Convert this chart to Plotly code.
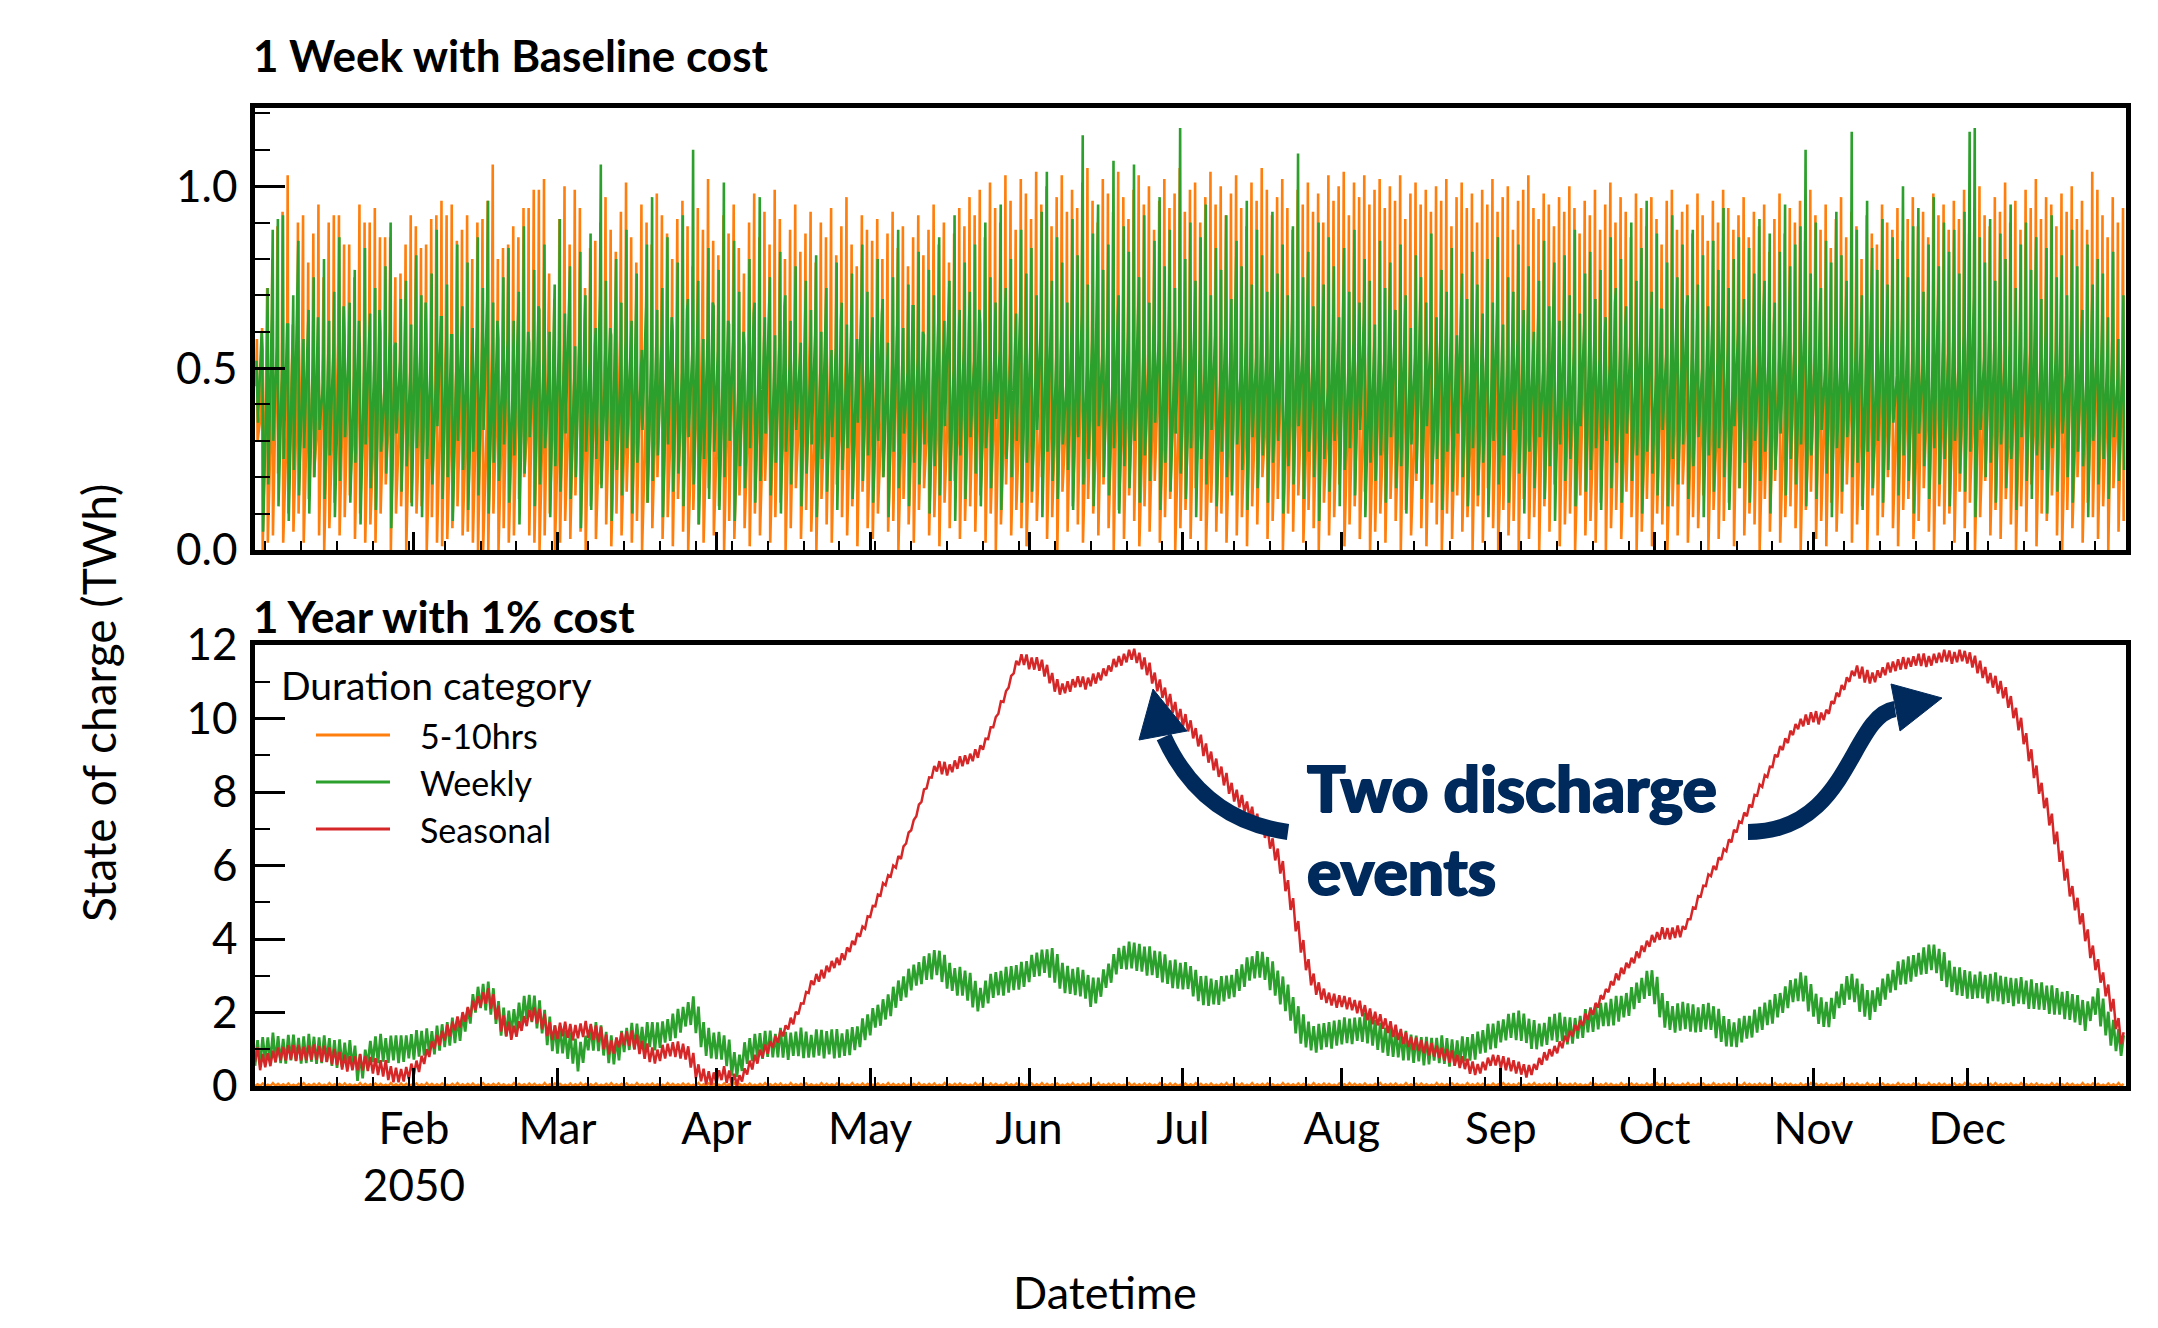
import numpy as np
import pandas as pd
import plotly.graph_objects as go

# ---------------------------------------------------------------- data
# one value per day of 2050 (day 0 = 1 Jan), TWh x 100
SERIES = ["5-10hrs", "Weekly", "Seasonal"]
MONTH_TICKS = ["2050-02-01", "2050-03-01", "2050-04-01", "2050-05-01", "2050-06-01",
               "2050-07-01", "2050-08-01", "2050-09-01", "2050-10-01", "2050-11-01",
               "2050-12-01"]
MONTH_LABELS = ["Feb<br>2050", "Mar", "Apr", "May", "Jun", "Jul", "Aug", "Sep",
                "Oct", "Nov", "Dec"]

# top panel (1 Week with Baseline cost): daily resting level, peak and trough
TOP_ORANGE_REST = [
    45, 38, 52, 41, 56, 47, 35, 50, 43, 58,
    40, 49, 36, 54, 44, 39, 57, 46, 51, 37,
    53, 42, 48, 35, 55, 45, 40, 59, 38, 50,
    44, 56, 41, 47, 36, 52, 43, 58, 39, 49,
    46, 37, 54, 42, 50, 35, 57, 44, 40, 53,
    39, 51, 45, 36, 55, 48, 41, 59, 43, 38,
    52, 40, 47, 56, 37, 49, 44, 35, 54, 46,
    42, 58, 38, 50, 45, 53, 36, 48, 41, 57,
    47, 39, 55, 43, 51, 37, 46, 60, 40, 52,
    36, 48, 44, 57, 41, 50, 38, 54, 45, 39,
    50, 43, 56, 38, 47, 53, 40, 45, 58, 36,
    49, 41, 55, 46, 37, 52, 44, 39, 57, 48,
    42, 54, 36, 50, 45, 59, 40, 47, 38, 53,
    46, 37, 51, 43, 56, 41, 48, 35, 55, 44,
    52, 47, 39, 58, 42, 50, 36, 54, 45, 40,
    57, 43, 49, 38, 53, 46, 41, 59, 37, 51,
    44, 56, 40, 48, 35, 52, 47, 42, 55, 39,
    50, 45, 58, 37, 54, 43, 49, 41, 56, 46,
    38, 53, 44, 51, 40, 57, 36, 48, 45, 52,
    41, 55, 47, 39, 59, 42, 50, 37, 54, 46,
    53, 40, 48, 56, 43, 38, 51, 45, 58, 36,
    49, 44, 55, 41, 47, 52, 39, 57, 42, 50,
    37, 54, 46, 40, 53, 48, 35, 56, 44, 51,
    45, 58, 38, 50, 42, 55, 47, 36, 52, 41,
    56, 43, 49, 37, 54, 40, 46, 59, 39, 48,
    42, 51, 45, 57, 38, 53, 44, 50, 36, 55,
    47, 40, 52, 46, 58, 41, 49, 35, 54, 43,
    50, 37, 56, 44, 48, 53, 39, 45, 57, 42,
    38, 54, 41, 51, 46, 36, 55, 47, 43, 59,
    52, 45, 39, 57, 40, 50, 44, 53, 37, 48,
    55, 42, 47, 36, 56, 49, 41, 54, 45, 38,
    51, 46, 58, 40, 44, 52, 37, 57, 43, 50,
    39, 53, 45, 48, 35, 55, 42, 47, 56, 41,
    54, 38, 50, 44, 59, 43, 46, 40, 52, 47,
    45, 57, 36, 51, 42, 49, 55, 39, 48, 53,
    40, 46, 54, 43, 58, 37, 50, 45, 41, 56,
    48, 42, 53, 39, 50,
]
TOP_ORANGE_PEAK = [
    58, 61, 72, 80, 89, 93, 103, 62, 90, 92,
    79, 87, 95, 75, 90, 92, 92, 84, 84, 75,
    95, 90, 90, 94, 86, 86, 86, 75, 76, 84,
    92, 89, 83, 84, 91, 92, 96, 92, 95, 85,
    88, 92, 80, 90, 91, 96, 106, 80, 83, 84,
    89, 86, 94, 94, 99, 99, 102, 76, 69, 91,
    100, 84, 99, 94, 72, 83, 85, 90, 97, 88,
    82, 93, 101, 86, 79, 95, 90, 84, 98, 92,
    87, 80, 91, 96, 89, 78, 94, 88, 102, 85,
    81, 92, 87, 95, 83, 76, 90, 98, 86, 93,
    84, 99, 91, 80, 88, 95, 82, 87, 93, 79,
    90, 86, 94, 81, 89, 97, 84, 78, 92, 88,
    85, 91, 80, 87, 93, 83, 89, 78, 86, 92,
    81, 88, 95, 84, 90, 79, 87, 94, 89, 97,
    92, 99, 86, 101, 94, 90, 103, 96, 88, 102,
    98, 91, 104, 95, 100, 89, 97, 103, 93, 99,
    94, 101, 105, 96, 90, 102, 98, 93, 104, 97,
    91, 99, 103, 95, 100, 88, 96, 102, 94, 98,
    105, 93, 99, 101, 90, 97, 104, 95, 100, 92,
    98, 103, 94, 89, 101, 96, 105, 99, 92, 97,
    102, 94, 88, 99, 95, 101, 93, 98, 90, 103,
    96, 100, 104, 92, 101, 97, 103, 95, 99, 102,
    94, 100, 96, 103, 91, 98, 101, 95, 99, 93,
    100, 96, 102, 89, 97, 101, 94, 98, 90, 99,
    95, 102, 93, 97, 100, 88, 96, 99, 103, 94,
    91, 98, 95, 89, 97, 93, 100, 94, 87, 96,
    92, 99, 88, 95, 101, 90, 97, 93, 86, 98,
    94, 89, 97, 91, 84, 96, 99, 88, 93, 95,
    87, 98, 92, 85, 96, 90, 99, 94, 88, 92,
    97, 86, 93, 89, 95, 82, 91, 98, 87, 94,
    90, 96, 85, 99, 92, 88, 95, 83, 91, 97,
    86, 93, 89, 80, 92, 87, 84, 95, 90, 88,
    94, 85, 91, 97, 89, 93, 86, 98, 92, 95,
    88, 96, 91, 99, 87, 94, 100, 92, 89, 97,
    93, 101, 90, 96, 88, 99, 94, 102, 91, 97,
    95, 89, 98, 93, 100, 91, 96, 88, 104, 99,
    92, 86, 97, 90, 94,
]
TOP_ORANGE_TROUGH = [
    30, 0, 2, 4, 21, 2, 10, 5, 10, 2,
    14, 20, 4, 0, 6, 13, 4, 9, 15, 3,
    10, 2, 7, 2, 10, 18, 0, 10, 12, 0,
    13, 10, 12, 0, 9, 2, 1, 3, 6, 12,
    4, 5, 2, 0, 0, 0, 10, 0, 6, 2,
    4, 14, 20, 4, 2, 0, 4, 10, 0, 2,
    8, 3, 15, 5, 0, 12, 3, 18, 7, 1,
    10, 4, 16, 2, 8, 0, 13, 6, 20, 3,
    9, 1, 14, 5, 0, 11, 7, 2, 17, 4,
    12, 0, 8, 3, 15, 6, 1, 10, 4, 19,
    2, 9, 13, 0, 6, 17, 3, 11, 5, 0,
    14, 7, 2, 18, 9, 4, 12, 1, 16, 6,
    3, 10, 20, 5, 8, 0, 14, 7, 2, 11,
    17, 4, 9, 1, 13, 6, 19, 3, 8, 12,
    5, 15, 2, 10, 0, 7, 18, 4, 11, 6,
    1, 13, 8, 20, 3, 9, 0, 16, 5, 12,
    7, 2, 14, 10, 4, 18, 6, 0, 11, 3,
    15, 8, 1, 12, 5, 19, 2, 9, 14, 0,
    6, 11, 3, 17, 8, 0, 13, 5, 10, 2,
    16, 4, 9, 1, 12, 7, 20, 3, 8, 14,
    0, 10, 5, 15, 2, 11, 6, 0, 13, 4,
    9, 18, 1, 7, 12, 3, 16, 0, 5, 10,
    2, 14, 8, 0, 11, 4, 19, 6, 1, 13,
    7, 0, 10, 3, 15, 5, 9, 0, 12, 2,
    17, 6, 0, 11, 4, 8, 0, 14, 3, 9,
    0, 12, 5, 18, 1, 7, 10, 0, 15, 4,
    8, 2, 13, 0, 6, 11, 3, 16, 9, 0,
    5, 14, 1, 10, 7, 0, 12, 4, 18, 2,
    9, 6, 15, 0, 11, 3, 8, 13, 1, 17,
    4, 10, 7, 0, 14, 5, 19, 2, 9, 12,
    6, 0, 11, 16, 3, 8, 1, 13, 5, 10,
    18, 2, 7, 12, 0, 15, 4, 9, 20, 6,
    1, 11, 14, 3, 8, 17, 5, 0, 12, 7,
    10, 2, 16, 6, 13, 0, 9, 19, 4, 11,
    3, 14, 7, 0, 12, 5, 18, 1, 10, 8,
    15, 4, 0, 11, 6, 20, 2, 13, 9, 3,
    12, 0, 17, 5, 8,
]
TOP_GREEN_REST = [
    52, 60, 47, 65, 56, 50, 62, 54, 68, 49,
    58, 53, 64, 46, 61, 55, 50, 67, 57, 48,
    63, 51, 59, 54, 66, 45, 60, 56, 52, 65,
    49, 62, 57, 68, 53, 47, 64, 55, 59, 51,
    66, 54, 48, 61, 56, 69, 50, 63, 52, 58,
    46, 65, 55, 60, 51, 67, 53, 49, 62, 57,
    54, 68, 47, 59, 63, 52, 56, 70, 50, 61,
    65, 48, 58, 55, 62, 46, 67, 53, 60, 56,
    51, 64, 57, 49, 66, 54, 61, 47, 59, 68,
    55, 50, 63, 58, 45, 60, 54, 65, 52, 57,
    62, 49, 56, 67, 51, 59, 53, 64, 48, 61,
    57, 66, 50, 55, 63, 47, 60, 54, 68, 52,
    58, 46, 65, 56, 51, 62, 55, 49, 67, 53,
    60, 57, 48, 64, 54, 69, 50, 59, 56, 63,
    52, 66, 58, 47, 61, 55, 65, 51, 57, 68,
    54, 60, 49, 63, 56, 67, 53, 59, 46, 62,
    57, 65, 51, 58, 70, 54, 61, 48, 64, 55,
    60, 52, 67, 56, 50, 63, 58, 54, 66, 49,
    62, 57, 53, 68, 55, 51, 65, 59, 47, 61,
    56, 64, 50, 58, 66, 53, 60, 55, 69, 52,
    59, 48, 63, 57, 54, 67, 51, 62, 56, 45,
    61, 55, 66, 50, 58, 53, 64, 47, 60, 56,
    52, 65, 57, 49, 63, 59, 54, 68, 51, 58,
    46, 62, 55, 60, 53, 67, 50, 57, 64, 54,
    59, 51, 66, 56, 48, 61, 58, 53, 65, 55,
    63, 49, 57, 67, 54, 60, 52, 56, 46, 62,
    58, 65, 53, 59, 51, 68, 55, 61, 57, 50,
    64, 56, 60, 48, 66, 54, 58, 63, 52, 67,
    55, 61, 50, 57, 65, 53, 69, 56, 49, 60,
    54, 63, 58, 51, 67, 55, 62, 47, 59, 64,
    56, 52, 66, 60, 54, 68, 50, 57, 63, 53,
    61, 49, 58, 65, 55, 70, 52, 59, 56, 62,
    48, 64, 57, 53, 66, 51, 60, 55, 67, 58,
    54, 62, 50, 59, 68, 70, 56, 53, 61, 57,
    65, 52, 58, 49, 63, 56, 54, 67, 51, 60,
    57, 55, 62, 48, 65, 53, 59, 50, 64, 56,
    61, 52, 58, 47, 54,
]
TOP_GREEN_PEAK = [
    40, 55, 72, 88, 91, 92, 62, 70, 85, 58,
    66, 75, 52, 80, 63, 71, 86, 59, 68, 77,
    54, 83, 65, 72, 60, 78, 90, 57, 69, 74,
    62, 81, 70, 55, 76, 88, 64, 73, 59, 84,
    67, 79, 61, 86, 72, 96, 68, 58, 75, 83,
    63, 71, 89, 57, 77, 66, 84, 60, 73, 91,
    65, 78, 56, 82, 70, 87, 61, 106, 74, 59,
    80, 68, 88, 63, 76, 55, 84, 97, 66, 72,
    86, 60, 79, 92, 69, 110, 74, 58, 83, 67,
    77, 101, 62, 85, 71, 56, 80, 68, 97, 64,
    75, 59, 82, 70, 63, 78, 57, 74, 66, 81,
    60, 72, 55, 79, 68, 62, 76, 58, 84, 71,
    64, 80, 69, 57, 75, 88, 61, 73, 67, 82,
    59, 77, 70, 86, 63, 74, 92, 66, 79, 71,
    84, 62, 90, 75, 68, 95, 72, 80, 65, 88,
    76, 83, 70, 93, 104, 74, 86, 79, 68, 91,
    81, 114, 73, 87, 95, 77, 84, 107, 70, 89,
    82, 106, 75, 92, 68, 85, 97, 78, 88, 72,
    116, 80, 90, 74, 86, 95, 70, 83, 77, 92,
    69, 85, 78, 96, 73, 88, 81, 71, 93, 76,
    84, 70, 89, 109, 75, 82, 67, 90, 73, 86,
    78, 64, 83, 71, 88, 68, 80, 74, 62, 85,
    72, 79, 66, 84, 70, 61, 81, 75, 68, 87,
    64, 77, 71, 83, 59, 76, 69, 82, 73, 65,
    80, 68, 86, 62, 75, 71, 84, 66, 78, 60,
    74, 85, 67, 79, 63, 81, 70, 88, 65, 76,
    82, 69, 77, 64, 86, 72, 80, 67, 90, 74,
    83, 96, 71, 87, 66, 79, 92, 75, 84, 70,
    88, 73, 81, 67, 85, 77, 94, 72, 80, 86,
    69, 83, 76, 91, 74, 87, 68, 82, 95, 78,
    84, 89, 110, 76, 90, 72, 85, 79, 93, 81,
    74, 115, 88, 70, 96, 83, 77, 91, 73, 86,
    80, 100, 75, 89, 94, 71, 84, 97, 78, 90,
    82, 88, 76, 93, 115, 116, 86, 79, 91, 74,
    87, 80, 95, 72, 84, 90, 77, 86, 69, 83,
    92, 75, 81, 70, 88, 78, 66, 84, 73, 80,
    76, 64, 82, 58, 70,
]
TOP_GREEN_TROUGH = [
    35, 5, 18, 30, 12, 25, 8, 22, 15, 28,
    10, 20, 33, 14, 26, 9, 19, 31, 13, 24,
    7, 29, 17, 11, 27, 21, 6, 32, 16, 23,
    12, 28, 9, 25, 18, 34, 14, 20, 8, 30,
    22, 11, 27, 15, 33, 10, 24, 19, 29, 13,
    26, 7, 21, 31, 12, 18, 28, 9, 23, 16,
    32, 14, 20, 6, 27, 11, 25, 17, 30, 8,
    22, 15, 28, 10, 24, 33, 13, 19, 26, 9,
    29, 16, 21, 12, 31, 18, 7, 25, 14, 27,
    11, 20, 30, 8, 23, 17, 28, 13, 19, 32,
    15, 24, 10, 27, 18, 33, 12, 21, 29, 9,
    25, 16, 31, 11, 22, 28, 14, 35, 19, 26,
    13, 30, 20, 9, 27, 17, 32, 12, 24, 18,
    29, 10, 23, 15, 34, 19, 8, 26, 14, 31,
    21, 12, 28, 17, 36, 11, 25, 20, 30, 13,
    24, 16, 33, 9, 27, 19, 14, 29, 22, 11,
    31, 18, 25, 12, 34, 20, 15, 28, 10, 23,
    17, 30, 13, 26, 19, 35, 11, 24, 16, 32,
    21, 14, 28, 9, 25, 18, 33, 12, 27, 20,
    15, 29, 22, 11, 31, 17, 26, 13, 24, 30,
    10, 23, 18, 34, 14, 27, 20, 8, 25, 16,
    30, 12, 22, 28, 15, 33, 9, 24, 19, 26,
    13, 31, 17, 23, 10, 29, 21, 14, 34, 18,
    25, 11, 27, 16, 32, 20, 12, 28, 15, 24,
    9, 30, 18, 26, 13, 33, 21, 10, 27, 17,
    31, 14, 23, 8, 29, 19, 25, 12, 34, 16,
    22, 28, 11, 30, 17, 24, 13, 32, 19, 26,
    10, 27, 21, 15, 33, 12, 25, 18, 29, 14,
    23, 31, 9, 26, 16, 28, 20, 11, 34, 17,
    24, 13, 30, 19, 27, 10, 22, 32, 15, 25,
    18, 29, 12, 26, 14, 33, 21, 9, 28, 16,
    31, 20, 24, 11, 27, 17, 30, 13, 22, 35,
    15, 26, 19, 10, 32, 23, 14, 28, 18, 25,
    12, 30, 21, 16, 27, 9, 33, 20, 24, 13,
    29, 17, 25, 11, 31, 19, 14, 26, 22, 10,
    28, 16, 32, 20, 13, 27, 23, 9, 30, 18,
    25, 14, 31, 19, 22,
]

# bottom panel (1 Year with 1% cost)
BOT_ORANGE_PEAK = [
    5, 7, 4, 8, 6, 5, 7, 4, 6, 8,
    5, 6, 7, 4, 8, 5, 6, 7, 5, 4,
    8, 6, 5, 7, 6, 4, 8, 5, 7, 6,
    4, 7, 5, 8, 6, 5, 7, 4, 6, 8,
    5, 6, 7, 4, 8, 5, 6, 7, 5, 4,
    8, 6, 5, 7, 6, 4, 8, 5, 7, 6,
    4, 7, 5, 8, 6, 5, 7, 4, 6, 8,
    5, 6, 7, 4, 8, 5, 6, 7, 5, 4,
    8, 6, 5, 7, 6, 4, 8, 5, 7, 6,
    4, 7, 5, 8, 6, 5, 7, 4, 6, 8,
    5, 6, 7, 4, 8, 5, 6, 7, 5, 4,
    8, 6, 5, 7, 6, 4, 8, 5, 7, 6,
    4, 7, 5, 8, 6, 5, 7, 4, 6, 8,
    5, 6, 7, 4, 8, 5, 6, 7, 5, 4,
    8, 6, 5, 7, 6, 4, 8, 5, 7, 6,
    4, 7, 5, 8, 6, 5, 7, 4, 6, 8,
    5, 6, 7, 4, 8, 5, 6, 7, 5, 4,
    8, 6, 5, 7, 6, 4, 8, 5, 7, 6,
    4, 7, 5, 8, 6, 5, 7, 4, 6, 8,
    5, 6, 7, 4, 8, 5, 6, 7, 5, 4,
    8, 6, 5, 7, 6, 4, 8, 5, 7, 6,
    4, 7, 5, 8, 6, 5, 7, 4, 6, 8,
    5, 6, 7, 4, 8, 5, 6, 7, 5, 4,
    8, 6, 5, 7, 6, 4, 8, 5, 7, 6,
    4, 7, 5, 8, 6, 5, 7, 4, 6, 8,
    5, 6, 7, 4, 8, 5, 6, 7, 5, 4,
    8, 6, 5, 7, 6, 4, 8, 5, 7, 6,
    4, 7, 5, 8, 6, 5, 7, 4, 6, 8,
    5, 6, 7, 4, 8, 5, 6, 7, 5, 4,
    8, 6, 5, 7, 6, 4, 8, 5, 7, 6,
    4, 7, 5, 8, 6, 5, 7, 4, 6, 8,
    5, 6, 7, 4, 8, 5, 6, 7, 5, 4,
    8, 6, 5, 7, 6, 4, 8, 5, 7, 6,
    4, 7, 5, 8, 6, 5, 7, 4, 6, 8,
    5, 6, 7, 4, 8, 5, 6, 7, 5, 4,
    8, 6, 5, 7, 6, 4, 8, 5, 7, 6,
    4, 7, 5, 8, 6,
]
BOT_GREEN_MID = [
    90, 95, 100, 105, 100, 95, 100, 105, 100, 98,
    102, 100, 96, 100, 98, 90, 88, 85, 88, 80,
    50, 60, 90, 100, 102, 98, 100, 104, 100, 102,
    108, 112, 115, 120, 118, 125, 132, 140, 148, 152,
    160, 180, 210, 235, 245, 245, 230, 200, 175, 170,
    175, 190, 205, 215, 210, 195, 175, 150, 130, 125,
    120, 110, 95, 80, 100, 130, 135, 130, 115, 100,
    95, 110, 125, 135, 135, 130, 135, 140, 135, 140,
    150, 160, 170, 180, 195, 205, 180, 140, 120, 110,
    110, 105, 90, 60, 55, 80, 95, 105, 110, 112,
    115, 110, 118, 112, 108, 115, 120, 112, 108, 116,
    118, 112, 120, 115, 110, 118, 122, 130, 145, 160,
    175, 190, 200, 215, 230, 250, 265, 280, 295, 305,
    315, 325, 330, 335, 320, 300, 290, 285, 280, 270,
    250, 235, 250, 265, 275, 280, 285, 290, 295, 300,
    305, 320, 330, 335, 340, 335, 320, 300, 290, 285,
    285, 280, 270, 255, 260, 280, 300, 320, 340, 350,
    355, 355, 350, 345, 340, 335, 330, 320, 310, 305,
    300, 300, 295, 280, 265, 260, 255, 255, 260, 265,
    270, 280, 295, 310, 320, 330, 330, 320, 300, 280,
    260, 240, 210, 180, 155, 140, 130, 130, 135, 140,
    140, 145, 150, 150, 150, 155, 160, 155, 145, 135,
    125, 120, 115, 110, 110, 105, 100, 100, 95, 95,
    100, 100, 95, 90, 90, 95, 100, 105, 110, 120,
    130, 135, 140, 150, 160, 165, 165, 160, 150, 140,
    135, 140, 150, 160, 160, 155, 150, 150, 160, 170,
    180, 185, 190, 195, 200, 205, 210, 220, 230, 245,
    260, 275, 280, 260, 220, 195, 185, 185, 190, 190,
    185, 180, 185, 190, 185, 170, 155, 145, 140, 145,
    155, 160, 170, 180, 190, 200, 210, 220, 235, 250,
    260, 270, 265, 240, 220, 205, 195, 200, 220, 245,
    260, 270, 260, 240, 225, 220, 235, 255, 270, 285,
    300, 310, 315, 320, 330, 340, 345, 350, 340, 325,
    305, 290, 285, 280, 275, 270, 275, 270, 265, 270,
    265, 260, 260, 255, 260, 255, 250, 245, 245, 240,
    235, 230, 225, 220, 215, 210, 200, 190, 210, 230,
    200, 170, 145, 125, 110,
]
BOT_GREEN_SWING = [
    70, 76, 64, 80, 72, 66, 78, 70, 62, 74,
    80, 68, 72, 76, 64, 70, 78, 66, 74, 60,
    72, 78, 66, 70, 80, 64, 74, 68, 76, 72,
    66, 80, 70, 74, 62, 78, 72, 68, 76, 70,
    74, 64, 80, 70, 66, 78, 72, 62, 76, 70,
    68, 74, 80, 66, 72, 76, 64, 78, 70, 74,
    62, 72, 68, 80, 74, 66, 78, 70, 64, 76,
    72, 80, 66, 74, 70, 62, 78, 68, 76, 72,
    64, 74, 80, 70, 66, 78, 72, 68, 76, 70,
    74, 66, 72, 64, 60, 78, 70, 74, 68, 76,
    72, 64, 80, 70, 74, 66, 78, 72, 62, 76,
    70, 74, 68, 80, 66, 72, 76, 64, 78, 70,
    74, 62, 72, 68, 80, 74, 66, 78, 70, 64,
    76, 72, 80, 66, 74, 70, 62, 78, 68, 76,
    72, 64, 74, 80, 70, 66, 78, 72, 68, 76,
    70, 74, 66, 72, 64, 80, 78, 70, 74, 68,
    76, 72, 64, 80, 70, 74, 66, 78, 72, 62,
    76, 70, 74, 68, 80, 66, 72, 76, 64, 78,
    70, 74, 62, 72, 68, 80, 74, 66, 78, 70,
    64, 76, 72, 80, 66, 74, 70, 62, 78, 68,
    76, 72, 64, 74, 80, 70, 66, 78, 72, 68,
    76, 70, 74, 66, 72, 64, 80, 78, 70, 74,
    68, 76, 72, 64, 80, 70, 74, 66, 78, 72,
    62, 76, 70, 74, 68, 80, 66, 72, 76, 64,
    78, 70, 74, 62, 72, 68, 80, 74, 66, 78,
    70, 64, 76, 72, 80, 66, 74, 70, 62, 78,
    68, 76, 72, 64, 74, 80, 70, 66, 78, 72,
    68, 76, 70, 74, 66, 72, 64, 80, 78, 70,
    74, 68, 76, 72, 64, 80, 70, 74, 66, 78,
    72, 62, 76, 70, 74, 68, 80, 66, 72, 76,
    64, 78, 70, 74, 62, 72, 68, 80, 74, 66,
    78, 70, 64, 76, 72, 80, 66, 74, 70, 62,
    78, 68, 76, 72, 64, 74, 80, 70, 66, 78,
    72, 68, 76, 70, 74, 66, 72, 64, 80, 78,
    70, 74, 68, 76, 72, 64, 80, 70, 74, 66,
    78, 72, 62, 76, 70, 74, 68, 80, 66, 72,
    76, 64, 70, 60, 56,
]
BOT_RED_MID = [
    85, 65, 70, 75, 85, 88, 90, 92, 90, 88,
    90, 92, 90, 88, 85, 80, 75, 65, 60, 62,
    65, 62, 60, 55, 50, 48, 35, 30, 28, 32,
    40, 50, 60, 80, 100, 120, 130, 145, 155, 170,
    180, 195, 210, 225, 235, 245, 230, 200, 170, 155,
    145, 155, 170, 185, 195, 190, 175, 155, 145, 150,
    155, 150, 145, 150, 155, 150, 145, 140, 120, 105,
    110, 125, 130, 130, 120, 105, 95, 85, 80, 90,
    95, 100, 100, 95, 90, 70, 40, 30, 22, 20,
    25, 35, 25, 18, 15, 30, 50, 65, 80, 95,
    105, 120, 135, 150, 170, 185, 210, 240, 270, 290,
    300, 310, 325, 335, 345, 360, 380, 400, 420, 445,
    475, 505, 535, 560, 585, 610, 635, 675, 710, 750,
    790, 825, 855, 870, 865, 860, 870, 880, 885, 890,
    900, 910, 930, 960, 990, 1030, 1060, 1100, 1140, 1160,
    1160, 1150, 1150, 1145, 1130, 1110, 1090, 1080, 1085, 1090,
    1100, 1100, 1095, 1105, 1110, 1120, 1130, 1145, 1155, 1160,
    1170, 1175, 1165, 1150, 1135, 1110, 1090, 1070, 1050, 1030,
    1010, 995, 980, 960, 940, 915, 895, 875, 855, 835,
    810, 790, 775, 760, 745, 725, 705, 690, 660, 630,
    595, 545, 495, 435, 380, 330, 290, 265, 250, 240,
    235, 230, 230, 225, 220, 215, 205, 195, 185, 180,
    170, 160, 150, 140, 130, 120, 115, 110, 105, 100,
    95, 90, 85, 80, 70, 65, 60, 50, 45, 50,
    60, 70, 70, 65, 60, 55, 50, 45, 40, 45,
    60, 75, 85, 95, 105, 120, 135, 150, 165, 180,
    195, 210, 230, 250, 270, 290, 305, 320, 335, 350,
    365, 380, 395, 405, 415, 415, 415, 420, 420, 440,
    470, 500, 530, 560, 585, 605, 630, 655, 680, 705,
    730, 750, 775, 805, 830, 855, 885, 910, 930, 950,
    970, 985, 995, 1000, 1005, 1000, 1010, 1030, 1055, 1075,
    1095, 1115, 1130, 1125, 1115, 1110, 1115, 1125, 1135, 1140,
    1145, 1150, 1150, 1155, 1160, 1160, 1155, 1160, 1165, 1170,
    1170, 1165, 1170, 1170, 1165, 1155, 1140, 1125, 1110, 1100,
    1085, 1070, 1045, 1015, 985, 945, 900, 855, 810, 770,
    725, 675, 625, 575, 530, 495, 455, 410, 365, 330,
    295, 260, 220, 170, 130,
]
BOT_RED_SWING = [
    40, 44, 38, 42, 40, 36, 42, 40, 44, 38,
    40, 42, 38, 44, 40, 42, 36, 40, 42, 38,
    44, 40, 38, 42, 40, 44, 38, 40, 36, 40,
    42, 38, 44, 40, 42, 38, 40, 44, 40, 38,
    42, 40, 44, 38, 40, 42, 40, 38, 44, 40,
    38, 42, 40, 44, 38, 40, 42, 38, 40, 44,
    40, 38, 42, 40, 44, 38, 40, 42, 40, 38,
    44, 40, 38, 42, 40, 36, 42, 40, 38, 44,
    40, 38, 42, 40, 36, 40, 38, 34, 36, 34,
    36, 38, 34, 30, 28, 36, 38, 40, 38, 36,
    34, 32, 34, 30, 32, 34, 30, 32, 34, 30,
    32, 34, 30, 28, 32, 34, 30, 32, 28, 34,
    30, 32, 34, 28, 30, 32, 34, 30, 28, 32,
    34, 30, 32, 28, 34, 30, 32, 34, 30, 28,
    32, 34, 30, 32, 28, 34, 30, 32, 34, 30,
    28, 32, 34, 30, 32, 28, 34, 30, 32, 34,
    30, 28, 32, 34, 30, 32, 28, 34, 30, 32,
    34, 30, 28, 32, 34, 30, 32, 28, 34, 30,
    32, 34, 30, 28, 32, 34, 30, 32, 28, 34,
    30, 32, 34, 28, 30, 32, 34, 30, 28, 32,
    34, 30, 32, 28, 34, 30, 32, 34, 30, 28,
    32, 34, 30, 32, 28, 34, 30, 32, 34, 30,
    28, 32, 34, 30, 32, 28, 34, 30, 32, 34,
    30, 28, 32, 34, 30, 32, 28, 34, 30, 32,
    34, 30, 28, 32, 34, 30, 32, 28, 34, 30,
    32, 34, 30, 28, 32, 34, 30, 32, 28, 34,
    30, 32, 34, 28, 30, 32, 34, 30, 28, 32,
    34, 30, 32, 28, 34, 30, 32, 34, 30, 28,
    32, 34, 30, 32, 28, 34, 30, 32, 34, 30,
    28, 32, 34, 30, 32, 28, 34, 30, 32, 34,
    30, 28, 32, 34, 30, 32, 28, 34, 30, 32,
    34, 30, 28, 32, 34, 30, 32, 28, 34, 30,
    32, 34, 30, 28, 32, 34, 30, 32, 28, 34,
    30, 32, 34, 28, 30, 32, 34, 30, 28, 32,
    34, 30, 32, 28, 34, 30, 32, 34, 30, 28,
    32, 34, 30, 32, 28, 34, 30, 32, 34, 30,
    28, 32, 34, 30, 32,
]

TOP_TITLE = "1 Week with Baseline cost"
BOT_TITLE = "1 Year with 1% cost"
Y_TITLE = "State of charge (TWh)"
X_TITLE = "Datetime"
LEGEND_TITLE = "Duration category"
NOTE = "Two discharge<br>events"

# ---------------------------------------------------------------- style
COLORS = {"5-10hrs": "#ff7f0e", "Weekly": "#2ca02c", "Seasonal": "#d62728"}
NAVY = "#002a5c"
FONT = "Lato, 'Noto Sans', sans-serif"
W, H = 2158, 1328
ML, MR, MT, MB = 255, 32, 108, 242
PW, PH = W - ML - MR, H - MT - MB


def px(x):
    return (x - ML) / PW


def py(y):
    return (H - MB - y) / PH


T0 = np.datetime64("2050-01-01T00:00", "m")


def stamps(n, hour):
    return T0 + np.arange(n) * np.timedelta64(1440, "m") + np.timedelta64(int(hour * 60), "m")


def daily_path(*parts):
    """parts: (values, hour) pairs, hours ascending within the day."""
    n = min(len(v) for v, _ in parts)
    k = len(parts)
    t = np.empty(k * n, dtype="datetime64[m]")
    v = np.empty(k * n)
    for i, (vals, hour) in enumerate(parts):
        t[i::k] = stamps(n, hour)
        v[i::k] = np.asarray(vals[:n], float) / 100.0
    return pd.to_datetime(t), v


def mid_swing(mid, sw):
    n = min(len(mid), len(sw))
    m = np.asarray(mid[:n], float)
    s = np.asarray(sw[:n], float)
    return daily_path((np.maximum(m - s / 2, 0), 0), (m + s / 2, 12))


fig = go.Figure()

tx, tv = daily_path((TOP_ORANGE_REST, 5), (TOP_ORANGE_PEAK, 9), (TOP_ORANGE_TROUGH, 12))
fig.add_trace(go.Scatter(x=tx, y=tv, mode="lines", name=SERIES[0], showlegend=False,
                         line=dict(color=COLORS[SERIES[0]], width=2.6), xaxis="x", yaxis="y"))
tx, tv = daily_path((TOP_GREEN_REST, 7), (TOP_GREEN_PEAK, 11), (TOP_GREEN_TROUGH, 14))
fig.add_trace(go.Scatter(x=tx, y=tv, mode="lines", name=SERIES[1], showlegend=False,
                         line=dict(color=COLORS[SERIES[1]], width=2.6), xaxis="x", yaxis="y"))

bo_n = len(BOT_ORANGE_PEAK)
bx, bv = daily_path(([0] * bo_n, 0), (BOT_ORANGE_PEAK, 12))
fig.add_trace(go.Scatter(x=bx, y=bv, mode="lines", name=SERIES[0], showlegend=False,
                         line=dict(color=COLORS[SERIES[0]], width=2.4), xaxis="x2", yaxis="y2"))
bx, bv = mid_swing(BOT_GREEN_MID, BOT_GREEN_SWING)
fig.add_trace(go.Scatter(x=bx, y=bv, mode="lines", name=SERIES[1], showlegend=False,
                         line=dict(color=COLORS[SERIES[1]], width=2.7), xaxis="x2", yaxis="y2"))
bx, bv = mid_swing(BOT_RED_MID, BOT_RED_SWING)
fig.add_trace(go.Scatter(x=bx, y=bv, mode="lines", name=SERIES[2], showlegend=False,
                         line=dict(color=COLORS[SERIES[2]], width=2.5), xaxis="x2", yaxis="y2"))

X_RANGE = ["2050-01-01 00:00", "2050-12-31 23:00"]
tickfont = dict(family=FONT, size=44, color="black")
frame = dict(showline=True, linecolor="black", linewidth=4.5, mirror=True,
             showgrid=False, zeroline=False, ticks="inside", tickcolor="black")
xcommon = dict(frame, type="date", range=X_RANGE, tickmode="array",
               tickvals=MONTH_TICKS, ticktext=MONTH_LABELS, tickangle=0,
               ticklen=18, tickwidth=2.5,
               minor=dict(ticks="inside", tickmode="linear", tick0="2050-01-03",
                          dtick=7 * 86400000, ticklen=9, tickwidth=2,
                          tickcolor="black", showgrid=False))

fig.update_layout(
    width=W, height=H,
    margin=dict(l=ML, r=MR, t=MT, b=MB, pad=0),
    paper_bgcolor="white", plot_bgcolor="white",
    showlegend=False,
    font=dict(family=FONT, color="black"),
    xaxis=dict(xcommon, domain=[0, 1], anchor="y", matches="x2", showticklabels=False),
    yaxis=dict(frame, domain=[py(550), 1.0], anchor="x", range=[0, 1.215], tick0=0,
               dtick=0.5, tickformat=".1f", ticklen=30, tickwidth=3, tickfont=tickfont,
               ticklabelstandoff=4,
               minor=dict(ticks="inside", dtick=0.1, ticklen=15, tickwidth=2,
                          tickcolor="black", showgrid=False)),
    xaxis2=dict(xcommon, domain=[0, 1], anchor="y2", tickfont=tickfont, ticklabelstandoff=0),
    yaxis2=dict(frame, domain=[0.0, py(645)], anchor="x2", range=[0, 12], tick0=0, dtick=2,
                ticklen=30, tickwidth=3, tickfont=tickfont, ticklabelstandoff=4,
                minor=dict(ticks="inside", dtick=1, ticklen=15, tickwidth=2,
                           tickcolor="black", showgrid=False)),
)

ann = []
ann.append(dict(text=TOP_TITLE, x=px(251), y=py(55), xanchor="left", yanchor="middle",
                font=dict(family=FONT, size=44, weight=700)))
ann.append(dict(text=BOT_TITLE, x=px(251), y=py(616), xanchor="left", yanchor="middle",
                font=dict(family=FONT, size=44, weight=700)))
ann.append(dict(text=X_TITLE, x=px(1105), y=py(1292), xanchor="center", yanchor="middle",
                font=dict(family=FONT, size=45)))
ann.append(dict(text=Y_TITLE, x=px(98), y=py(703), xanchor="center", yanchor="middle",
                textangle=-90, font=dict(family=FONT, size=46)))
ann.append(dict(text=LEGEND_TITLE, x=px(279), y=py(685), xanchor="left", yanchor="middle",
                font=dict(family=FONT, size=39)))
leg_y = [735, 782, 829]
shapes = []
for name, yy in zip(SERIES, leg_y):
    ann.append(dict(text=name, x=px(418), y=py(yy), xanchor="left", yanchor="middle",
                    font=dict(family=FONT, size=34)))
    shapes.append(dict(type="line", xref="paper", yref="paper", x0=px(316), x1=px(390),
                       y0=py(yy), y1=py(yy), line=dict(color=COLORS[name], width=3)))
heavy = f"1px 0px 0px {NAVY}, -1px 0px 0px {NAVY}, 0px 1px 0px {NAVY}"
ann.append(dict(text=NOTE, x=px(1305), y=py(829), xanchor="left", yanchor="middle",
                align="left",
                font=dict(family=FONT, size=64, weight=900, color=NAVY, shadow=heavy)))
for a in ann:
    a.update(xref="paper", yref="paper", showarrow=False)
fig.update_layout(annotations=ann)


def P(x, y):
    return f"{px(x):.5f},{py(y):.5f}"


# left curved arrow
shapes.append(dict(type="path", xref="paper", yref="paper",
                   path=f"M {P(1288, 832)} Q {P(1202, 820)} {P(1164, 737)}",
                   line=dict(color=NAVY, width=16), fillcolor="rgba(0,0,0,0)"))
shapes.append(dict(type="path", xref="paper", yref="paper",
                   path=f"M {P(1153, 689)} L {P(1139, 740)} L {P(1187, 731)} Z",
                   line=dict(color=NAVY, width=1), fillcolor=NAVY))
# right S-shaped arrow
shapes.append(dict(type="path", xref="paper", yref="paper",
                   path=f"M {P(1748, 832)} C {P(1850, 832)} {P(1850, 716)} {P(1895, 709)}",
                   line=dict(color=NAVY, width=16), fillcolor="rgba(0,0,0,0)"))
shapes.append(dict(type="path", xref="paper", yref="paper",
                   path=f"M {P(1942, 698)} L {P(1891, 684)} L {P(1900, 731)} Z",
                   line=dict(color=NAVY, width=1), fillcolor=NAVY))
fig.update_layout(shapes=shapes)

fig.write_html("out.html")
